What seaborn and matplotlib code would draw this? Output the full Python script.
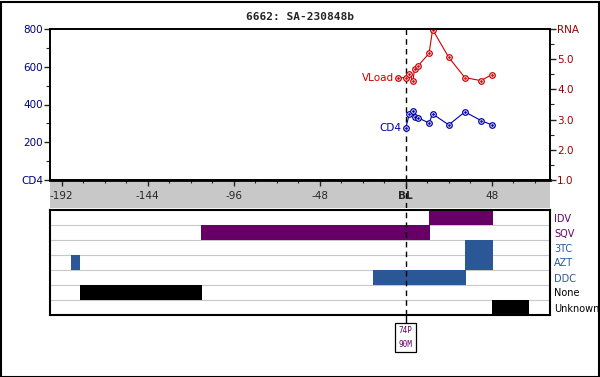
import matplotlib
matplotlib.use("Agg")
import matplotlib.pyplot as plt
import matplotlib.transforms as mtransforms
from matplotlib.patches import Rectangle
from matplotlib.ticker import MultipleLocator
import pandas as pd
import seaborn as sns

# --- data ---
cd4_weeks = [0, 2, 4, 5, 7, 13, 15, 24, 33, 42, 48]
cd4_vals = [274, 350, 368, 336, 329, 302, 350, 292, 361, 315, 292]
vl_weeks = [-4.5, 0, 2, 4, 5, 7, 13, 15, 24, 33, 42, 48]
vl_vals = [4.39, 4.39, 4.5, 4.29, 4.69, 4.79, 5.19, 5.98, 5.06, 4.39, 4.29, 4.49]

drugs = ['IDV', 'SQV', '3TC', 'AZT', 'DDC', 'None', 'Unknown']
drug_colors = ['#660066', '#660066', '#2b5797', '#2b5797', '#2b5797', 'black', 'black']
bar_drug = ['IDV', 'SQV', '3TC', 'AZT', 'AZT', 'DDC', 'None', 'Unknown']
bar_start = [13, -114, 33, -187, 33, -18.5, -182, 48]
bar_end = [48.5, 13.5, 48.5, -181.5, 48.5, 33.5, -113.5, 69]

xticks = [-192, -144, -96, -48, 0, 48]
xticklabels = ['-192', '-144', '-96', '-48', 'BL', '48']
mut_label = '74P\n90M'
title = '6662: SA-230848b'

XMIN, XMAX = -198.5, 80.5
RED = '#cc0000'
BLUE = '#0000aa'

sns.set_style("white")
plt.rcParams['font.family'] = ['DejaVu Sans']

W, H = 600, 377
fig = plt.figure(figsize=(6, 3.77), dpi=100)

def fbox(x0, y0, x1, y1):
    return [x0 / W, 1 - y1 / H, (x1 - x0) / W, (y1 - y0) / H]

# gray band holding the x tick labels
band = fig.add_axes(fbox(50, 180, 550, 208))
band.set_facecolor('#c8c8c8')
band.set_xlim(XMIN, XMAX)
band.set_ylim(0, 1)
band.set_xticks([]); band.set_yticks([])
for s in band.spines.values():
    s.set_visible(False)
band.axvline(0, color='black', lw=1, ls=(0, (4, 3)))

# top plot: CD4 (left) and viral load (right)
ax = fig.add_axes(fbox(50, 29, 550, 180))
ax.patch.set_alpha(0)
cd4 = pd.DataFrame({'week': cd4_weeks, 'cd4': cd4_vals})
sns.lineplot(data=cd4, x='week', y='cd4', ax=ax, color=BLUE, lw=0.8,
             marker='o', markersize=4, markerfacecolor='white',
             markeredgecolor=BLUE, markeredgewidth=0.9, estimator=None, sort=False)
ax.plot(cd4_weeks, cd4_vals, ls='none', marker='.', ms=1.8, color=BLUE)
ax.set_xlim(XMIN, XMAX)
ax.set_ylim(0, 800)
ax.set_yticks([0, 200, 400, 600, 800])
ax.set_yticklabels(['CD4', '200', '400', '600', '800'], color='#000080', fontsize=7.5)
ax.yaxis.set_minor_locator(MultipleLocator(100))
ax.set_xticks(xticks)
ax.set_xticklabels(xticklabels, fontsize=7.5)
ax.get_xticklabels()[4].set_fontweight('bold')
ax.xaxis.set_minor_locator(MultipleLocator(12))
ax.tick_params(axis='x', which='major', direction='out', length=4, width=1, pad=4, bottom=True)
ax.tick_params(axis='x', which='minor', direction='out', length=2.5, width=0.8, bottom=True)
ax.tick_params(axis='y', which='major', direction='out', length=4, width=1, pad=1, left=True)
ax.tick_params(axis='y', which='minor', direction='out', length=3, width=0.8, left=True)
ax.set_xlabel(''); ax.set_ylabel('')
for s in ax.spines.values():
    s.set_color('black'); s.set_linewidth(1.2)
ax.spines['bottom'].set_linewidth(2)
ax.text(-2.5, 274, 'CD4', color=BLUE, fontsize=7.5, ha='right', va='center')

ax2 = ax.twinx()
vl = pd.DataFrame({'week': vl_weeks, 'vload': vl_vals})
sns.lineplot(data=vl, x='week', y='vload', ax=ax2, color=RED, lw=0.8,
             marker='o', markersize=4, markerfacecolor='white',
             markeredgecolor=RED, markeredgewidth=0.9, estimator=None, sort=False)
ax2.plot(vl_weeks, vl_vals, ls='none', marker='.', ms=1.8, color=RED)
ax2.set_ylim(1, 6)
ax2.set_yticks([1, 2, 3, 4, 5, 6])
ax2.set_yticklabels(['1.0', '2.0', '3.0', '4.0', '5.0', 'RNA'], color='#990000', fontsize=7.5)
ax2.yaxis.set_minor_locator(MultipleLocator(0.5))
ax2.tick_params(axis='y', which='major', direction='out', length=4, width=1, pad=1, right=True)
ax2.tick_params(axis='y', which='minor', direction='out', length=3, width=0.8, right=True)
ax2.set_ylabel('')
ax2.text(-6.5, 4.39, 'VLoad', color=RED, fontsize=7.5, ha='right', va='center')
for s in ax2.spines.values():
    s.set_color('black'); s.set_linewidth(1.2)

# bottom: treatment history
bx = fig.add_axes(fbox(50, 210, 550, 315))
bx.set_xlim(XMIN, XMAX)
bx.set_ylim(len(drugs), 0)
for i in range(1, len(drugs)):
    bx.axhline(i, color='#c8c8c8', lw=0.8, zorder=0)
for d, a, b in zip(bar_drug, bar_start, bar_end):
    i = drugs.index(d)
    bx.barh(i + 0.5, b - a, left=a, height=0.96, color=drug_colors[i],
            linewidth=0, zorder=2)
bx.axvline(0, color='black', lw=1, ls=(0, (4, 3)), zorder=3)
bx.set_xticks([])
bx.yaxis.tick_right()
bx.set_yticks([i + 0.5 for i in range(len(drugs))])
bx.set_yticklabels(drugs, fontsize=7)
for lab, c in zip(bx.get_yticklabels(), drug_colors):
    lab.set_color(c)
bx.tick_params(axis='y', length=0, pad=3)
for s in bx.spines.values():
    s.set_color('black'); s.set_linewidth(1.5)

# baseline dashed line through the top plot and down to the mutation box
trans = mtransforms.blended_transform_factory(ax.transData, fig.transFigure)
ax.plot([0, 0], [1 - 29 / H, 1 - 180 / H], transform=trans, color='black',
        lw=1, ls=(0, (4, 3)), clip_on=False, zorder=1)
ax.plot([0, 0], [1 - 315 / H, 1 - 325 / H], transform=trans, color='black',
        lw=1, clip_on=False)
fig.text(0, 1 - 337.5 / H, mut_label, transform=trans, ha='center', va='center',
         fontsize=5.5, family='DejaVu Sans Mono', color='#660066', linespacing=1.6,
         bbox=dict(boxstyle='square,pad=0.5', fc='white', ec='black', lw=0.9))

fig.text(300 / W, 1 - 17 / H, title, ha='center', va='center', fontsize=8,
         fontweight='bold', family='DejaVu Sans Mono')

fig.patches.append(Rectangle((0.5 / W, 0.5 / H), (W - 2) / W, (H - 2) / H,
                             transform=fig.transFigure, fill=False, ec='black', lw=1.5))

fig.savefig('out.png', dpi=100)
